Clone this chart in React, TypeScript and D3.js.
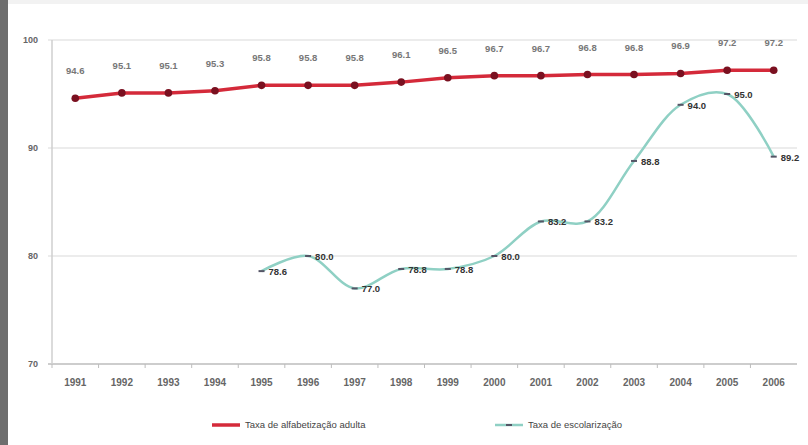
import React from "react";
import * as d3 from "d3";

const years = ["1991","1992","1993","1994","1995","1996","1997","1998","1999","2000","2001","2002","2003","2004","2005","2006"];
const adultLiteracy = [94.6, 95.1, 95.1, 95.3, 95.8, 95.8, 95.8, 96.1, 96.5, 96.7, 96.7, 96.8, 96.8, 96.9, 97.2, 97.2];
const schoolingYears = ["1995","1996","1997","1998","1999","2000","2001","2002","2003","2004","2005","2006"];
const schooling = [78.6, 80.0, 77.0, 78.8, 78.8, 80.0, 83.2, 83.2, 88.8, 94.0, 95.0, 89.2];
const yTicks = [70, 80, 90, 100];
const seriesNames = ["Taxa de alfabetização adulta", "Taxa de escolarização"];

const W = 808;
const H = 445;
const plot = { left: 52, right: 797, top: 40, bottom: 364 };
const RED = "#d42a3a";
const RED_DARK = "#7a1020";
const TEAL = "#8fd0c4";
const FONT = "'Liberation Sans', Arial, sans-serif";

export default function App() {
  const x = d3.scaleBand<string>().domain(years).range([plot.left, plot.right]);
  const cx = (yr: string) => (x(yr) as number) + x.bandwidth() / 2;
  const y = d3.scaleLinear().domain([70, 100]).range([plot.bottom, plot.top]);

  const redPts: [number, number][] = years.map((yr, i) => [cx(yr), y(adultLiteracy[i])]);
  const tealPts: [number, number][] = schoolingYears.map((yr, i) => [cx(yr), y(schooling[i])]);

  const straight = d3.line();
  const smooth = d3.line().curve(d3.curveCatmullRom.alpha(0.5));

  return (
    <svg
      width={W}
      height={H}
      style={{ position: "absolute", left: 0, top: 0, background: "#fff", fontFamily: FONT }}
    >
      <rect x={0} y={0} width={W} height={H} fill="#fff" />
      <rect x={0} y={0} width={8} height={H} fill="#6e6e6e" />
      <rect x={8} y={0} width={W - 8} height={4} fill="#f2f2f2" />

      {/* grid lines */}
      {yTicks.map((t) => (
        <g key={t}>
          <line
            x1={plot.left - 4}
            x2={plot.right}
            y1={y(t)}
            y2={y(t)}
            stroke={t === 70 ? "#bdbdbd" : "#d9d9d9"}
            strokeWidth={t === 70 ? 1.5 : 1.2}
          />
          <text x={38} y={y(t) + 3} textAnchor="end" fontSize={9} fontWeight="bold" fill="#666">
            {t}
          </text>
        </g>
      ))}
      <line x1={plot.left} x2={plot.left} y1={plot.top} y2={plot.bottom} stroke="#cfcfcf" strokeWidth={1.5} />

      {/* x axis */}
      {years.map((yr) => (
        <g key={yr}>
          <line
            x1={(x(yr) as number)}
            x2={(x(yr) as number)}
            y1={plot.bottom}
            y2={plot.bottom + 4}
            stroke="#bdbdbd"
          />
          <text x={cx(yr)} y={plot.bottom + 22} textAnchor="middle" fontSize={10} fontWeight="bold" fill="#666">
            {yr}
          </text>
        </g>
      ))}

      {/* adult literacy */}
      <path d={straight(redPts) || ""} fill="none" stroke={RED} strokeWidth={3.5} />
      {redPts.map(([px, py], i) => (
        <g key={years[i]}>
          <circle cx={px} cy={py} r={3.8} fill={RED_DARK} />
          <text x={px} y={py - 24} textAnchor="middle" fontSize={9.5} fontWeight="bold" fill="#777">
            {adultLiteracy[i].toFixed(1)}
          </text>
        </g>
      ))}

      {/* schooling */}
      <path d={smooth(tealPts) || ""} fill="none" stroke={TEAL} strokeWidth={2.5} />
      {tealPts.map(([px, py], i) => (
        <g key={schoolingYears[i]}>
          <line x1={px - 3} x2={px + 3} y1={py} y2={py} stroke="#556" strokeWidth={2} />
          <text x={px + 7} y={py + 4} fontSize={9.5} fontWeight="bold" fill="#333">
            {schooling[i].toFixed(1)}
          </text>
        </g>
      ))}

      {/* legend */}
      <line x1={212} x2={240} y1={425} y2={425} stroke={RED} strokeWidth={3.5} />
      <text x={245} y={428} fontSize={9.5} fill="#444">
        {seriesNames[0]}
      </text>
      <line x1={495} x2={523} y1={425} y2={425} stroke={TEAL} strokeWidth={2.5} />
      <line x1={506} x2={512} y1={425} y2={425} stroke="#556" strokeWidth={2} />
      <text x={528} y={428} fontSize={9.5} fill="#444">
        {seriesNames[1]}
      </text>
    </svg>
  );
}
